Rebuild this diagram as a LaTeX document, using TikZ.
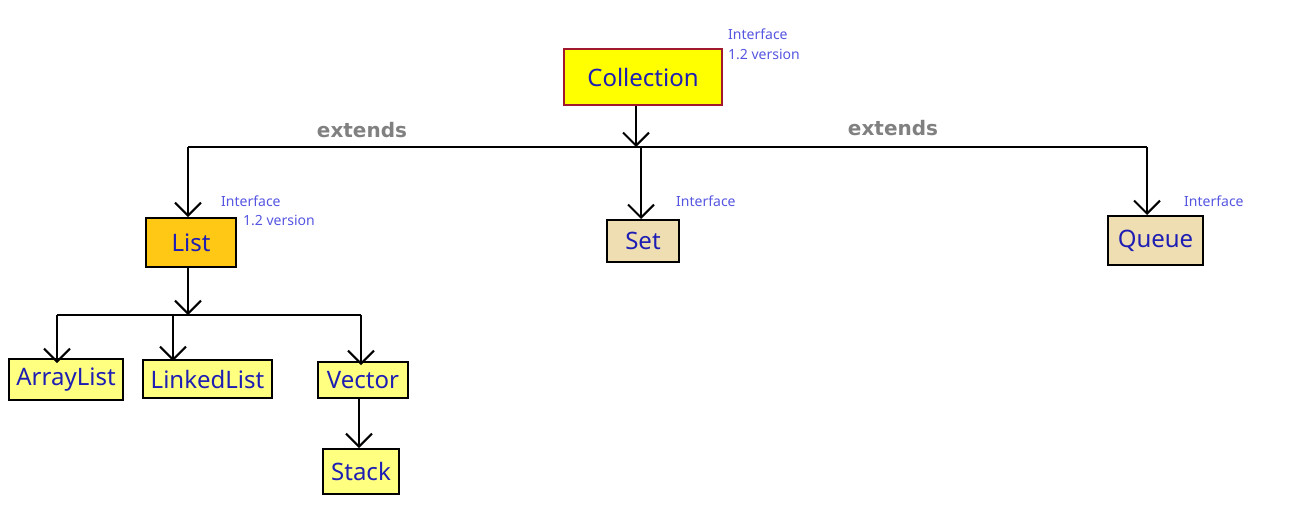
\documentclass[tikz,border=0pt]{standalone}
\usepackage{fontspec}
\setmainfont{Noto Sans}
\newfontfamily\extfont{DejaVu Sans}
\usetikzlibrary{arrows.meta}
\definecolor{boxtext}{RGB}{30,30,180}
\definecolor{labtext}{RGB}{85,85,225}
\definecolor{collfill}{RGB}{255,255,0}
\definecolor{collborder}{RGB}{160,25,45}
\definecolor{listfill}{RGB}{255,200,20}
\definecolor{beige}{RGB}{238,222,178}
\definecolor{lightyel}{RGB}{255,255,128}
\definecolor{extgrey}{RGB}{128,128,128}
\tikzset{
  box/.style={draw=black, line width=2pt, inner sep=0pt, text=boxtext, font=\fontsize{24}{26}\selectfont},
  lab/.style={text=labtext, font=\fontsize{14}{16}\selectfont, anchor=west, inner sep=0pt},
  ext/.style={text=extgrey, font=\extfont\bfseries\fontsize{20}{22}\selectfont, inner sep=0pt},
  arr/.style={line width=2pt, -{Straight Barb[length=13pt,width=26pt,line width=2pt]}},
  ln/.style={line width=2pt}
}
\begin{document}
\begin{tikzpicture}[x=1pt,y=-1pt]
\useasboundingbox (0,0) rectangle (1310,531);
% boxes
\node[box, draw=collborder, fill=collfill, minimum width=158pt, minimum height=56pt] (coll) at (643,77) {Collection};
\node[box, fill=listfill, minimum width=90pt, minimum height=49pt] (list) at (191,242.5) {List};
\node[box, fill=beige, minimum width=72pt, minimum height=42pt] (set) at (643,241) {Set};
\node[box, fill=beige, minimum width=95pt, minimum height=49pt] (queue) at (1155.5,240.5) {Queue};
\node[box, fill=lightyel, minimum width=114pt, minimum height=41pt] (al) at (66,379.5) {ArrayList};
\node[box, fill=lightyel, minimum width=129pt, minimum height=38pt] (ll) at (207.5,379) {LinkedList};
\node[box, fill=lightyel, minimum width=90pt, minimum height=36pt] (vec) at (363,380) {Vector};
\node[box, fill=lightyel, minimum width=76pt, minimum height=45pt] (stack) at (361,471.5) {Stack};
% labels
\node[lab] (li1) at (728,34) {Interface};
\node[lab] (li2) at (728,54) {1.2 version};
\node[lab] (lli1) at (221,201) {Interface};
\node[lab] (lli2) at (243,220) {1.2 version};
\node[lab] (lset) at (676,201) {Interface};
\node[lab] (lq) at (1184,201) {Interface};
\node[ext] (e1) at (362,130) {extends};
\node[ext] (e2) at (893,128) {extends};
% junction coordinates
\coordinate (jc) at (636,147);
\coordinate (jl) at (188,147);
\coordinate (js) at (641,147);
\coordinate (jq) at (1147,147);
\coordinate (jlist) at (188,315);
\coordinate (ja) at (57,315);
\coordinate (jll) at (173,315);
\coordinate (jv) at (361,315);
% connectors
\draw[arr] (jc |- coll.south) -- (jc);
\draw[ln] (jl) -- (jq);
\draw[arr] (jl) -- (jl |- list.north);
\draw[arr] (js) -- (js |- set.north);
\draw[arr] (jq) -- (jq |- queue.north);
\draw[arr] (jlist |- list.south) -- (jlist);
\draw[ln] (ja) -- (jv);
\draw[arr] (ja) -- ([yshift=-5pt]ja |- al.north);
\draw[arr] (jll) -- ([yshift=-2pt]jll |- ll.north);
\draw[arr] (jv) -- ([yshift=-4pt]jv |- vec.north);
\draw[arr] ([xshift=-4pt]vec.south) -- ([xshift=-2pt]stack.north);
\end{tikzpicture}
\end{document}
